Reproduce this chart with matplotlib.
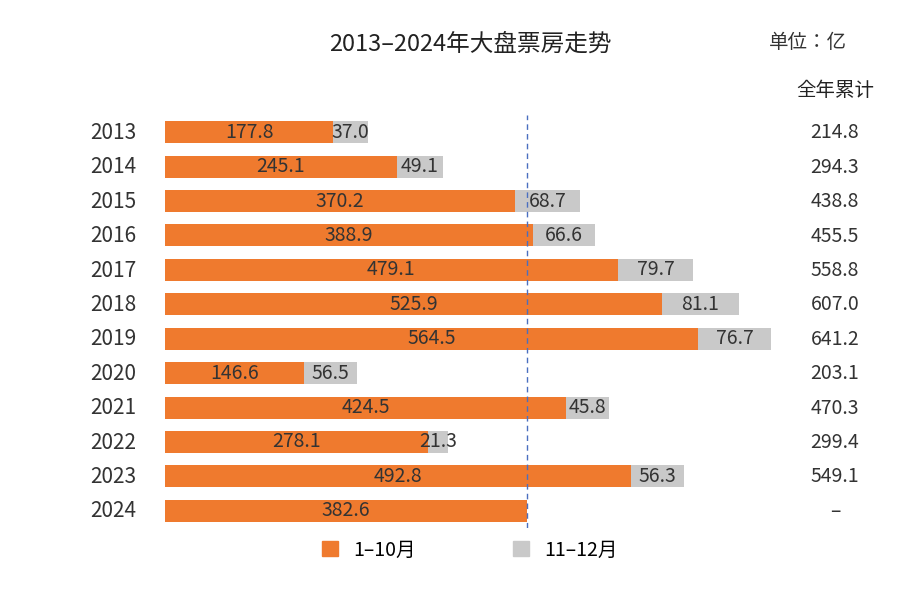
import matplotlib.pyplot as plt
from matplotlib import font_manager
from matplotlib.patches import Patch

cjk = [f.name for f in font_manager.fontManager.ttflist if "CJK" in f.name]
if not cjk:
    import glob
    for p in glob.glob("/usr/share/fonts/**/*CJK*", recursive=True):
        font_manager.fontManager.addfont(p)
    cjk = [f.name for f in font_manager.fontManager.ttflist if "CJK" in f.name]
sc = [n for n in cjk if n.endswith("SC")]
plt.rcParams["font.family"] = "sans-serif"
plt.rcParams["font.sans-serif"] = (sc or cjk) + ["DejaVu Sans"]

years = ["2013", "2014", "2015", "2016", "2017", "2018", "2019", "2020", "2021", "2022", "2023", "2024"]
jan_oct = [177.8, 245.1, 370.2, 388.9, 479.1, 525.9, 564.5, 146.6, 424.5, 278.1, 492.8, 382.6]
nov_dec = [37.0, 49.1, 68.7, 66.6, 79.7, 81.1, 76.7, 56.5, 45.8, 21.3, 56.3, 0]
totals = ["214.8", "294.3", "438.8", "455.5", "558.8", "607.0", "641.2", "203.1", "470.3", "299.4", "549.1", "–"]

orange = "#EF7A2E"
grey = "#C9C9C9"
txt = "#333333"

fig = plt.figure(figsize=(9.19, 5.89), dpi=100)
W, H = 919, 589
ax = fig.add_axes([165 / W, 1 - 528 / H, 615 / W, 413 / H])
ax.set_xlim(0, 615 / 0.945)
ax.set_ylim(len(years) - 0.5, -0.5)
ax.axis("off")

ys = range(len(years))
ax.barh(ys, jan_oct, height=0.64, color=orange)
ax.barh(ys, nov_dec, left=jan_oct, height=0.64, color=grey)
for i, (a, b) in enumerate(zip(jan_oct, nov_dec)):
    ax.text(a / 2, i, f"{a:.1f}", ha="center", va="center", fontsize=14, color=txt)
    if b > 0:
        ax.text(a + b / 2, i, f"{b:.1f}", ha="center", va="center", fontsize=14, color=txt)
ax.axvline(jan_oct[-1], color="#4A6FC0", ls=(0, (4, 3)), lw=1)

for i, (yr, t) in enumerate(zip(years, totals)):
    ypx = 133 + i * 34.4
    fig.text(113 / W, 1 - ypx / H, yr, ha="center", va="center", fontsize=15, color=txt)
    fig.text(835 / W, 1 - ypx / H, t, ha="center", va="center", fontsize=14, color=txt)

fig.text(470 / W, 1 - 44 / H, "2013–2024年大盘票房走势", ha="center", va="center", fontsize=17, color="#222222")
fig.text(808 / W, 1 - 42 / H, "单位：亿", ha="center", va="center", fontsize=14, color=txt)
fig.text(835 / W, 1 - 90 / H, "全年累计", ha="center", va="center", fontsize=14, color="#222222")

fig.legend(handles=[Patch(color=orange, label="1–10月"), Patch(color=grey, label="11–12月")],
           loc="center", bbox_to_anchor=(470 / W, 1 - 550 / H), ncol=2, frameon=False,
           fontsize=14, handlelength=0.8, handleheight=0.8, columnspacing=5)

fig.savefig("out.png", dpi=100)
